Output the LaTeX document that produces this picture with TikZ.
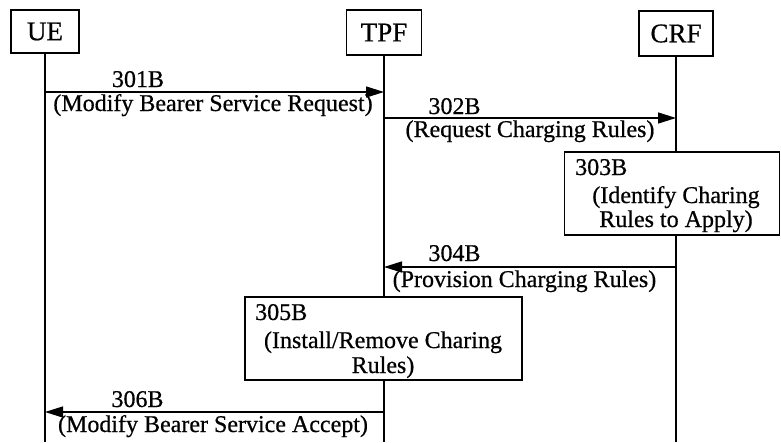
\documentclass[tikz,border=0pt]{standalone}
\usepackage{fontspec}
\setmainfont{Liberation Serif}[FakeBold=0.6]
\newfontfamily\scanfont{Liberation Serif}[FakeBold=0.6]
\usetikzlibrary{arrows.meta}
\begin{document}
\begin{tikzpicture}[x=1pt,y=-1pt,
  head/.style={draw,line width=1.2pt,inner sep=0pt,font=\scanfont\fontsize{27}{27}\selectfont},
  life/.style={line width=1.2pt},
  msg/.style={line width=1.4pt,-{Triangle[length=18pt,width=11pt]}},
  lbl/.style={inner sep=0pt,anchor=base,font=\scanfont\fontsize{24}{24}\selectfont},
  lbll/.style={lbl,anchor=base west},
  actbox/.style={draw,fill=white,line width=1.2pt,inner sep=0pt}]
\useasboundingbox (0,0) rectangle (781,442);
% headers
\node[head,minimum width=68pt,minimum height=43pt] (ue) at (45,31.5) {UE};
\node[head,minimum width=75pt,minimum height=45pt] (tpf) at (384,32.5) {TPF};
\node[head,minimum width=74pt,minimum height=45pt] (crf) at (676,33.5) {CRF};
% lifelines
\coordinate (ueEnd) at (45,442);
\coordinate (tpfEnd) at (384,442);
\coordinate (crfEnd) at (676,442);
\draw[life] (ue) -- (ueEnd);
\draw[life] (tpf) -- (tpfEnd);
\draw[life] (crf) -- (crfEnd);
% activity boxes
\node[actbox,minimum width=215pt,minimum height=83pt] (b303) at (672,193.5) {};
\node[actbox,minimum width=277pt,minimum height=83pt] (b305) at (383.5,338.5) {};
% 301B
\coordinate (m1a) at (45,92);
\coordinate (m1b) at (384,92);
\draw[msg] (m1a) -- (m1b);
\node[lbl] (t301) at (138,87) {301B};
\node[lbl] (t301d) at (213,111) {(Modify Bearer Service Request)};
% 302B
\coordinate (m2a) at (384,118);
\coordinate (m2b) at (676,118);
\draw[msg] (m2a) -- (m2b);
\node[lbl] (t302) at (454.5,114) {302B};
\node[lbl] (t302d) at (530,137) {(Request Charging Rules)};
% 303B
\node[lbll] (t303) at (575,175) {303B};
\node[lbl] (t303a) at (676,203) {(Identify Charing};
\node[lbl] (t303b) at (676,227) {Rules to Apply)};
% 304B
\coordinate (m4a) at (676,267);
\coordinate (m4b) at (384,267);
\draw[msg] (m4a) -- (m4b);
\node[lbl] (t304) at (454.5,261) {304B};
\node[lbl] (t304d) at (524.5,287) {(Provision Charging Rules)};
% 305B
\node[lbll] (t305) at (255,320) {305B};
\node[lbl] (t305a) at (383,348) {(Install/Remove Charing};
\node[lbl] (t305b) at (383,373) {Rules)};
% 306B
\coordinate (m6a) at (384,412);
\coordinate (m6b) at (45,412);
\draw[msg] (m6a) -- (m6b);
\node[lbl] (t306) at (137.5,407) {306B};
\node[lbl] (t306d) at (213,432) {(Modify Bearer Service Accept)};
\end{tikzpicture}
\end{document}
